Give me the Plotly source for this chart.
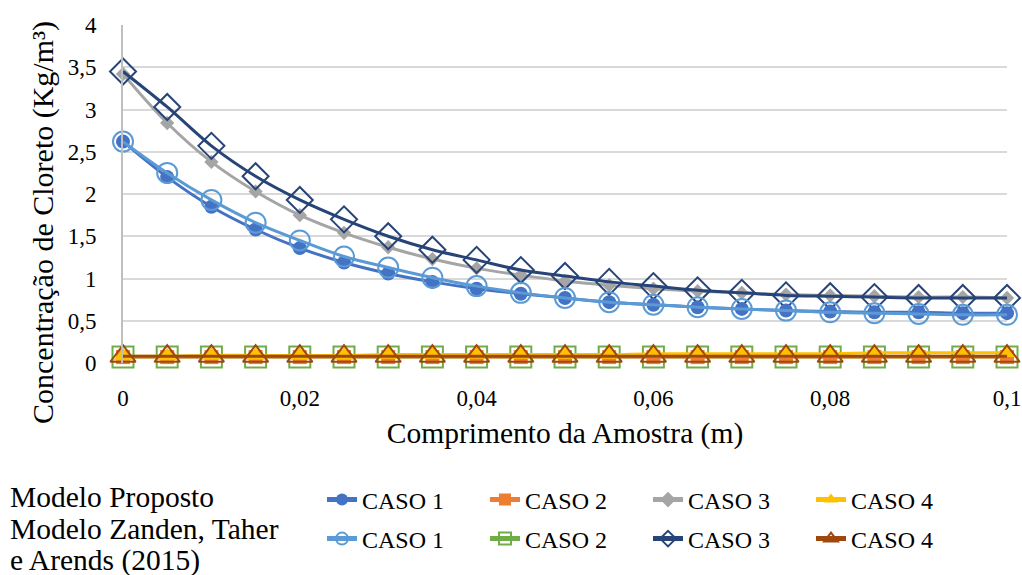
import plotly.graph_objects as go

x = [round(i * 0.005, 3) for i in range(21)]

prop_c1 = [2.62, 2.20, 1.85, 1.58, 1.36, 1.19, 1.06, 0.96, 0.88, 0.82, 0.77, 0.72, 0.69, 0.66, 0.64, 0.62, 0.61, 0.60, 0.60, 0.59, 0.59]
prop_c2 = [0.07] * 21
prop_c3 = [3.42, 2.84, 2.38, 2.03, 1.75, 1.54, 1.37, 1.23, 1.12, 1.04, 0.97, 0.92, 0.88, 0.85, 0.83, 0.81, 0.80, 0.79, 0.78, 0.78, 0.77]
prop_c4 = [0.08, 0.08, 0.09, 0.09, 0.09, 0.09, 0.10, 0.10, 0.10, 0.10, 0.10, 0.10, 0.11, 0.11, 0.11, 0.11, 0.11, 0.12, 0.12, 0.12, 0.12]

zan_c1 = [2.62, 2.25, 1.93, 1.66, 1.45, 1.26, 1.13, 1.01, 0.91, 0.83, 0.77, 0.72, 0.69, 0.66, 0.64, 0.62, 0.60, 0.59, 0.58, 0.57, 0.57]
zan_c2 = [0.07] * 21
zan_c3 = [3.45, 3.03, 2.57, 2.21, 1.93, 1.70, 1.50, 1.34, 1.22, 1.10, 1.03, 0.96, 0.91, 0.86, 0.83, 0.80, 0.79, 0.78, 0.77, 0.77, 0.77]
zan_c4 = [0.08] * 21

y_title = "Concentração de Cloreto (Kg/m³)"
x_title = "Comprimento da Amostra (m)"
legend_note = ["Modelo Proposto", "Modelo Zanden, Taher", "e Arends (2015)"]

FONT = "Times New Roman"

fig = go.Figure()

def add(y, name, color, symbol, size, legend, rank, open_=False, lw=3):
    if open_:
        marker = dict(symbol=symbol + "-open", size=size, color=color, line=dict(width=2, color=color))
    else:
        marker = dict(symbol=symbol, size=size, color=color, line=dict(width=0))
    fig.add_trace(go.Scatter(
        x=x, y=y, name=name, mode="lines+markers",
        line=dict(color=color, width=lw, shape="spline"),
        marker=marker, cliponaxis=False, legend=legend, legendrank=rank))

add(zan_c2, "CASO 2", "#70AD47", "square", 21, "legend2", 2, open_=True)
add(prop_c2, "CASO 2", "#ED7D31", "square", 14, "legend", 2)
add(prop_c4, "CASO 4", "#FFC000", "triangle-up", 17, "legend", 4)
add(zan_c4, "CASO 4", "#9E480E", "triangle-up", 22, "legend2", 4, open_=True)
add(prop_c3, "CASO 3", "#A5A5A5", "diamond", 11, "legend", 3)
add(zan_c3, "CASO 3", "#264478", "diamond", 20, "legend2", 3, open_=True)
add(prop_c1, "CASO 1", "#4472C4", "circle", 14, "legend", 1)
add(zan_c1, "CASO 1", "#5B9BD5", "circle", 20, "legend2", 1, open_=True)

H_PLOT = 338.0
def py(pix):
    return (363.0 - pix) / H_PLOT

def px(pix):
    return (pix - 123.0) / 884.0

leg_common = dict(orientation="h", xanchor="left", yanchor="middle",
                  entrywidth=118, entrywidthmode="pixels", itemsizing="constant",
                  font=dict(size=24, family=FONT, color="#000"),
                  traceorder="normal", bgcolor="rgba(0,0,0,0)", borderwidth=0,
                  tracegroupgap=0)

fig.update_layout(
    width=1022, height=575,
    margin=dict(l=123, r=15, t=25, b=212, autoexpand=False),
    paper_bgcolor="white", plot_bgcolor="white",
    separators=",.",
    font=dict(family=FONT, size=23, color="#000000"),
    showlegend=True,
    legend=dict(x=px(322), y=py(500), **leg_common),
    legend2=dict(x=px(322), y=py(539), **leg_common),
    xaxis=dict(range=[0, 0.1], dtick=0.02, tick0=0, showgrid=False, zeroline=False,
               showline=False, ticks="", ticklabelstandoff=19,
               tickfont=dict(size=23, family=FONT, color="#000"),
               title=dict(text=x_title, font=dict(size=29.5, family=FONT, color="#000"), standoff=12)),
    yaxis=dict(range=[0, 4], dtick=0.5, tick0=0, showgrid=True, gridcolor="#d9d9d9", gridwidth=2,
               zeroline=False, showline=True, linecolor="#bfbfbf", linewidth=2, ticks="",
               ticklabelstandoff=20,
               tickfont=dict(size=23, family=FONT, color="#000")),
    annotations=[
        dict(text=y_title, xref="paper", yref="paper", x=px(43), y=py(223), textangle=-90,
             xanchor="center", yanchor="middle", showarrow=False,
             font=dict(size=30, family=FONT, color="#000")),
        dict(text=legend_note[0], xref="paper", yref="paper", x=px(8), y=py(497),
             xanchor="left", yanchor="middle", showarrow=False, font=dict(size=29.5, family=FONT, color="#000")),
        dict(text=legend_note[1], xref="paper", yref="paper", x=px(8), y=py(529),
             xanchor="left", yanchor="middle", showarrow=False, font=dict(size=29.5, family=FONT, color="#000")),
        dict(text=legend_note[2], xref="paper", yref="paper", x=px(8), y=py(560),
             xanchor="left", yanchor="middle", showarrow=False, font=dict(size=29.5, family=FONT, color="#000")),
    ],
)

fig.write_html("out.html")
